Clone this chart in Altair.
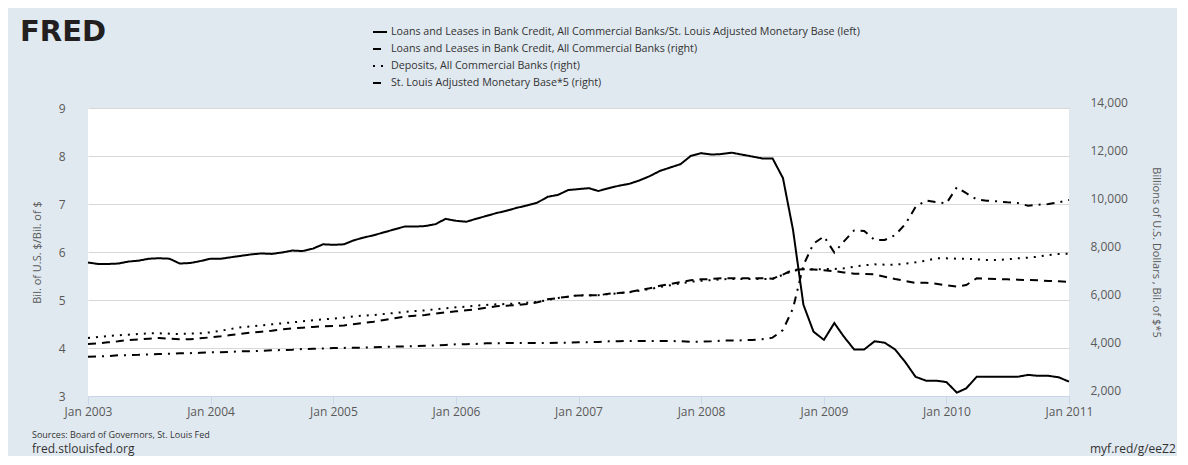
import altair as alt
import pandas as pd

# ---------------- data ----------------
months = pd.date_range("2003-01-01", "2011-01-01", freq="MS").strftime("%Y-%m-%d").tolist()

ratio = [5.78, 5.75, 5.75, 5.76, 5.80, 5.82, 5.86, 5.87, 5.86, 5.76, 5.77, 5.81,
         5.86, 5.86, 5.89, 5.92, 5.95, 5.97, 5.96, 5.99, 6.03, 6.02, 6.07, 6.16,
         6.15, 6.16, 6.24, 6.30, 6.35, 6.41, 6.47, 6.53, 6.53, 6.54, 6.58, 6.69,
         6.65, 6.63, 6.69, 6.75, 6.81, 6.86, 6.92, 6.97, 7.03, 7.15, 7.19, 7.29,
         7.31, 7.33, 7.27, 7.33, 7.38, 7.42, 7.49, 7.58, 7.69, 7.76, 7.83, 8.00,
         8.06, 8.03, 8.04, 8.07, 8.03, 7.99, 7.95, 7.95, 7.54, 6.46, 4.90, 4.34,
         4.17, 4.52, 4.24, 3.97, 3.97, 4.14, 4.11, 3.97, 3.70, 3.40, 3.32, 3.32,
         3.29, 3.07, 3.16, 3.40, 3.40, 3.40, 3.40, 3.40, 3.44, 3.42, 3.42, 3.39, 3.30]

loans = [4167, 4194, 4236, 4278, 4333, 4361, 4389, 4417, 4389, 4361, 4361, 4403,
         4444, 4486, 4542, 4597, 4639, 4681, 4722, 4778, 4819, 4847, 4875, 4903,
         4920, 4940, 4986, 5042, 5097, 5167, 5236, 5306, 5347, 5375, 5431, 5486,
         5528, 5569, 5611, 5681, 5736, 5764, 5792, 5833, 5903, 6028, 6083, 6139,
         6190, 6194, 6194, 6264, 6292, 6333, 6417, 6486, 6597, 6667, 6750, 6819,
         6861, 6875, 6903, 6903, 6903, 6903, 6903, 6889, 7060, 7260, 7280, 7270,
         7240, 7200, 7150, 7097, 7083, 7069, 6972, 6875, 6792, 6708, 6722, 6681,
         6611, 6556, 6625, 6903, 6889, 6875, 6861, 6847, 6833, 6819, 6792, 6778, 6750]

deposits = [4420, 4460, 4500, 4528, 4556, 4583, 4611, 4611, 4597, 4583, 4597, 4611,
            4653, 4722, 4792, 4861, 4903, 4944, 4986, 5028, 5069, 5111, 5153, 5194,
            5220, 5264, 5319, 5347, 5375, 5417, 5458, 5500, 5542, 5569, 5611, 5653,
            5694, 5722, 5764, 5792, 5819, 5833, 5861, 5889, 5917, 6000, 6083, 6139,
            6200, 6190, 6200, 6250, 6280, 6320, 6390, 6450, 6540, 6610, 6690, 6760,
            6800, 6830, 6860, 6880, 6880, 6880, 6870, 6880, 7050, 7220, 7278, 7278,
            7285, 7292, 7319, 7389, 7444, 7486, 7472, 7472, 7514, 7569, 7639, 7736,
            7736, 7722, 7722, 7694, 7667, 7667, 7694, 7736, 7764, 7806, 7875, 7917, 7931]

base5 = [3639, 3650, 3665, 3694, 3705, 3715, 3736, 3745, 3760, 3778, 3785, 3800,
         3819, 3825, 3840, 3861, 3870, 3885, 3903, 3915, 3930, 3958, 3965, 3980,
         3995, 4005, 4010, 4014, 4030, 4045, 4056, 4065, 4080, 4097, 4110, 4130,
         4153, 4160, 4170, 4194, 4200, 4205, 4208, 4210, 4205, 4208, 4215, 4225,
         4236, 4240, 4255, 4278, 4285, 4290, 4292, 4290, 4292, 4290, 4280, 4264,
         4264, 4280, 4306, 4310, 4319, 4335, 4361, 4431, 4750, 5650, 7450, 8350,
         8650, 7980, 8430, 8900, 8880, 8500, 8500, 8700, 9170, 9880, 10150, 10080,
         10030, 10700, 10450, 10190, 10140, 10110, 10070, 10040, 9930, 9970, 10000, 10070, 10170]

S_RATIO = "Loans and Leases in Bank Credit, All Commercial Banks/St. Louis Adjusted Monetary Base (left)"
S_LOANS = "Loans and Leases in Bank Credit, All Commercial Banks (right)"
S_DEP = "Deposits, All Commercial Banks (right)"
S_BASE = "St. Louis Adjusted Monetary Base*5 (right)"
series_names = [S_RATIO, S_LOANS, S_DEP, S_BASE]
dash_patterns = [[1, 0], [8, 6], [2, 6], [8, 6, 2, 6]]

recession_start = ["2007-12-01"]
recession_end = ["2009-06-01"]

left_ticks = [3, 4, 5, 6, 7, 8, 9]
right_ticks = [2000, 4000, 6000, 8000, 10000, 12000, 14000]
years = list(range(2003, 2012))

left_df = pd.DataFrame({"date": months, "value": ratio, "series": S_RATIO})
right_df = pd.concat([
    pd.DataFrame({"date": months, "value": loans, "series": S_LOANS}),
    pd.DataFrame({"date": months, "value": deposits, "series": S_DEP}),
    pd.DataFrame({"date": months, "value": base5, "series": S_BASE}),
])
rec_df = pd.DataFrame({"start": recession_start, "end": recession_end})

# ---------------- styling ----------------
FONT = "Open Sans"
GREY = "#595959"
W, H = 981, 288

x_enc = alt.X(
    "date:T",
    title=None,
    scale=alt.Scale(type="utc",
                    domain=[alt.DateTime(year=2003, month=1, date=1, utc=True),
                            alt.DateTime(year=2011, month=1, date=1, utc=True)]),
    axis=alt.Axis(values=[alt.DateTime(year=y, month=1, date=1, utc=True) for y in years],
                  labelExpr="utcFormat(datum.value, '%b %Y')", grid=False,
                  domainColor="#ccd6eb", tickColor="#ccd6eb", tickSize=8,
                  labelPadding=2, labelFontSize=12, labelColor=GREY, labelFont=FONT,
                  labelOverlap=False, labelFlush=False),
)

legend = alt.Legend(
    title=None, orient="none", legendX=284, legendY=-84,
    symbolType="stroke", symbolSize=196, symbolStrokeWidth=2,
    symbolStrokeColor="black", labelFont=FONT, labelFontSize=10.7,
    labelColor="#333333", labelOffset=3, rowPadding=4, labelLimit=700,
)
dash_enc = alt.StrokeDash("series:N",
                          scale=alt.Scale(domain=series_names, range=dash_patterns),
                          legend=legend)

rec = alt.Chart(rec_df).mark_rect(color="#000000", opacity=0.118).encode(
    x=x_enc, x2="end:T"
).transform_calculate(date="datum.start")

right_lines = alt.Chart(right_df).mark_line(strokeWidth=2, color="black", strokeCap="butt").encode(
    x=x_enc,
    y=alt.Y("value:Q",
            scale=alt.Scale(domain=[2000, 14000], nice=False, zero=False),
            axis=alt.Axis(orient="right", values=right_ticks, format=",.0f", grid=False,
                          domain=False, ticks=False, labelPadding=21, labelOffset=-6,
                          labelFontSize=12, labelColor=GREY, labelFont=FONT,
                          title="Billions of U.S. Dollars , Bil. of $*5",
                          titleFont=FONT, titleFontSize=11, titleFontWeight="normal",
                          titleColor=GREY, titleAngle=90, titleX=86, titleY=H / 2,
                          titleAlign="center", titleBaseline="middle")),
    strokeDash=dash_enc,
    detail="series:N",
)

left_line = alt.Chart(left_df).mark_line(strokeWidth=2, color="black", strokeCap="butt").encode(
    x=x_enc,
    y=alt.Y("value:Q",
            scale=alt.Scale(domain=[3, 9], nice=False, zero=False),
            axis=alt.Axis(orient="left", values=left_ticks, grid=True, gridColor="#d8d8d8",
                          domain=False, ticks=False, labelPadding=23,
                          labelFontSize=12, labelColor=GREY, labelFont=FONT,
                          title="Bil. of U.S. $/Bil. of $",
                          titleFont=FONT, titleFontSize=11, titleFontWeight="normal",
                          titleColor=GREY, titleAngle=270, titleX=-51, titleY=H / 2,
                          titleAlign="center", titleBaseline="middle")),
    strokeDash=dash_enc,
)

def label(txt, x, y, size, color="#333333", weight="normal", align="left", font=FONT):
    return alt.Chart(pd.DataFrame({"t": [txt]})).mark_text(
        align=align, baseline="middle", fontSize=size, font=font, fontWeight=weight, color=color
    ).encode(text="t:N", x=alt.value(x), y=alt.value(y))

logo = label("FRED", -68, -76, 29, color="#231f20", weight="bold", font="DejaVu Sans")
src = label("Sources: Board of Governors, St. Louis Fed", -56, 327, 9, color="#333333")
site = label("fred.stlouisfed.org", -56, 341, 12, color="#333333")
short = label("myf.red/g/eeZ2", 1002, 341, 12, color="#333333")

chart = alt.layer(rec, right_lines, left_line, logo, src, site, short).resolve_scale(
    y="independent", strokeDash="shared"
).properties(
    width=W, height=H,
    autosize=alt.AutoSizeParams(type="none"),
    padding={"left": 80, "top": 100, "right": 108, "bottom": 60},
    background="#e1e9f0",
).configure_view(fill="white", stroke=None)

chart.save("out.html", embed_options={"renderer": "svg", "actions": False})
